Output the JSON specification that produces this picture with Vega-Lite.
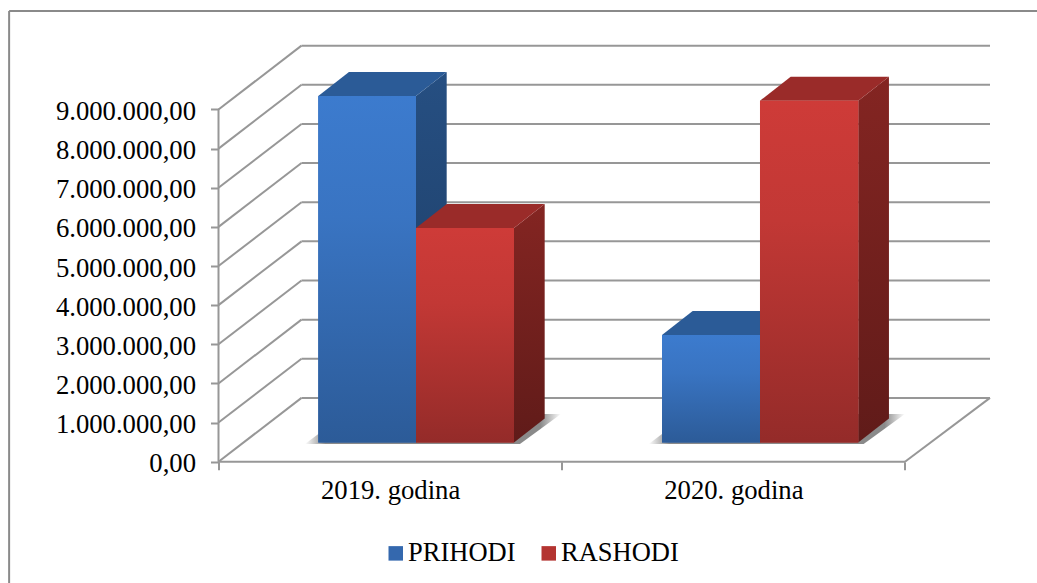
{
"$schema":"https://vega.github.io/schema/vega-lite/v6.json",
"width":771.5,"height":416.7,
"autosize":{"type":"none"},
"padding":{"left":218.5,"top":45,"right":47,"bottom":121.3},
"background":"white",
"config":{"view":{"stroke":null},"font":"Liberation Serif",
 "locale":{"number":{"decimal":",","thousands":".","grouping":[3],"currency":["",""]}}},
"datasets":{
 "lines":[
  {"part":"frame","x":-0.61,"y":11515000,"x2":2.4,"y2":11515000},
  {"part":"frame","x":-0.61,"y":11515000,"x2":-0.61,"y2":-3200000},
  {"part":"wall","x":0,"y":0,"x2":0,"y2":9000000},
  {"part":"wall","x":0,"y":0,"x2":2,"y2":0},
  {"part":"wall","x":2,"y":0,"x2":2.2477,"y2":1630000},
  {"part":"wall","x":0,"y":0,"x2":0.2418,"y2":1630000},
  {"part":"wall","x":0,"y":1000000,"x2":0.2418,"y2":2630000},
  {"part":"wall","x":0,"y":2000000,"x2":0.2418,"y2":3630000},
  {"part":"wall","x":0,"y":3000000,"x2":0.2418,"y2":4630000},
  {"part":"wall","x":0,"y":4000000,"x2":0.2418,"y2":5630000},
  {"part":"wall","x":0,"y":5000000,"x2":0.2418,"y2":6630000},
  {"part":"wall","x":0,"y":6000000,"x2":0.2418,"y2":7630000},
  {"part":"wall","x":0,"y":7000000,"x2":0.2418,"y2":8630000},
  {"part":"wall","x":0,"y":8000000,"x2":0.2418,"y2":9630000},
  {"part":"wall","x":0,"y":9000000,"x2":0.2418,"y2":10630000},
  {"part":"wall","x":0.2418,"y":1630000,"x2":2.2477,"y2":1630000},
  {"part":"wall","x":0.2418,"y":2630000,"x2":2.2477,"y2":2630000},
  {"part":"wall","x":0.2418,"y":3630000,"x2":2.2477,"y2":3630000},
  {"part":"wall","x":0.2418,"y":4630000,"x2":2.2477,"y2":4630000},
  {"part":"wall","x":0.2418,"y":5630000,"x2":2.2477,"y2":5630000},
  {"part":"wall","x":0.2418,"y":6630000,"x2":2.2477,"y2":6630000},
  {"part":"wall","x":0.2418,"y":7630000,"x2":2.2477,"y2":7630000},
  {"part":"wall","x":0.2418,"y":8630000,"x2":2.2477,"y2":8630000},
  {"part":"wall","x":0.2418,"y":9630000,"x2":2.2477,"y2":9630000},
  {"part":"wall","x":0.2418,"y":10630000,"x2":2.2477,"y2":10630000}
 ],
 "shadows":[
  {"bar":"2019","y":452000,"x":0.252,"x2":0.8783},
  {"bar":"2019","y":1218000,"x":0.3685,"x2":0.9978},
  {"bar":"2020","y":452000,"x":1.2533,"x2":1.8796},
  {"bar":"2020","y":1218000,"x":1.3698,"x2":2.0}
 ],
 "sides":[
  {"series":"PRIHODI","bar":"2019","x":0.5754,"top":9343000,"bottom":490500},
  {"series":"PRIHODI","bar":"2019","x":0.6648,"top":9956000,"bottom":1103500},
  {"series":"RASHODI","bar":"2019","x":0.8609,"top":5971000,"bottom":490500},
  {"series":"RASHODI","bar":"2019","x":0.9503,"top":6584000,"bottom":1103500},
  {"series":"PRIHODI","bar":"2020","x":1.5776,"top":3237000,"bottom":490500},
  {"series":"PRIHODI","bar":"2020","x":1.667,"top":3850000,"bottom":1103500},
  {"series":"RASHODI","bar":"2020","x":1.8639,"top":9223000,"bottom":490500},
  {"series":"RASHODI","bar":"2020","x":1.9533,"top":9836000,"bottom":1103500}
 ],
 "tops":[
  {"series":"PRIHODI","bar":"2019","y":9343000,"x":0.2907,"x2":0.5754},
  {"series":"PRIHODI","bar":"2019","y":9956000,"x":0.3801,"x2":0.6648},
  {"series":"RASHODI","bar":"2019","y":5971000,"x":0.5754,"x2":0.8609},
  {"series":"RASHODI","bar":"2019","y":6584000,"x":0.6648,"x2":0.9503},
  {"series":"PRIHODI","bar":"2020","y":3237000,"x":1.2921,"x2":1.5776},
  {"series":"PRIHODI","bar":"2020","y":3850000,"x":1.3815,"x2":1.667},
  {"series":"RASHODI","bar":"2020","y":9223000,"x":1.5776,"x2":1.8639},
  {"series":"RASHODI","bar":"2020","y":9836000,"x":1.667,"x2":1.9533}
 ],
 "fronts":[
  {"year":"2019. godina","series":"PRIHODI","value":8850000,"x":0.2907,"x2":0.5754,"top":9343000,"bottom":490500},
  {"year":"2019. godina","series":"RASHODI","value":5480000,"x":0.5754,"x2":0.8609,"top":5971000,"bottom":490500},
  {"year":"2020. godina","series":"PRIHODI","value":2750000,"x":1.2921,"x2":1.5776,"top":3237000,"bottom":490500},
  {"year":"2020. godina","series":"RASHODI","value":8730000,"x":1.5776,"x2":1.8639,"top":9223000,"bottom":490500}
 ]
},
"layer":[
 {"data":{"name":"lines"},
  "transform":[{"filter":"datum.part==='frame'"}],
  "mark":{"type":"rule","stroke":"#8a8a8a","strokeWidth":2,"clip":false},
  "encoding":{
   "x":{"field":"x","type":"quantitative","title":null,"scale":{"domain":[0,2.2477],"nice":false,"zero":false},
    "axis":{"values":[0,0.5,1,1.5,2],"domain":false,"grid":false,"tickSize":8,"tickWidth":2,"tickColor":"#979797",
     "tickOpacity":{"condition":{"test":"datum.value % 1 === 0","value":1},"value":0},
     "labelExpr":"datum.value===0.5?'2019. godina':datum.value===1.5?'2020. godina':''",
     "labelFont":"Liberation Serif","labelFontSize":26.7,"labelColor":"#000000","labelPadding":8,"labelFlush":false,"labelOverlap":false,"labelBaseline":"top"}},
   "y":{"field":"y","type":"quantitative","title":null,"scale":{"domain":[0,10647000],"nice":false,"zero":false},
    "axis":{"values":[0,1000000,2000000,3000000,4000000,5000000,6000000,7000000,8000000,9000000],"format":",.2f","domain":false,"grid":false,"tickSize":8,"tickWidth":2,"tickColor":"#979797",
     "labelFont":"Liberation Serif","labelFontSize":26.7,"labelColor":"#000000","labelPadding":15,"labelOverlap":false,"labelOffset":2}},
   "x2":{"field":"x2"},"y2":{"field":"y2"}
  }},
 {"data":{"name":"lines"},
  "transform":[{"filter":"datum.part==='wall'"}],
  "mark":{"type":"rule","stroke":"#979797","strokeWidth":2,"clip":false},
  "encoding":{
   "x":{"field":"x","type":"quantitative","title":null},
   "y":{"field":"y","type":"quantitative","title":null},
   "x2":{"field":"x2"},"y2":{"field":"y2"}
  }},
 {"data":{"name":"shadows"},
  "mark":{"type":"area","orient":"horizontal","fill":{"x1":0,"y1":0,"x2":1,"y2":0,"gradient":"linear","stops":[{"offset":0,"color":"#ffffff"},{"offset":0.08,"color":"#8a8a8a"},{"offset":0.92,"color":"#8a8a8a"},{"offset":1,"color":"#ffffff"}]}},
  "encoding":{
   "y":{"field":"y","type":"quantitative","title":null},
   "x":{"field":"x","type":"quantitative","title":null,"stack":null},
   "x2":{"field":"x2"},
   "detail":{"field":"bar"}
  }},
 {"data":{"name":"sides"},
  "transform":[{"filter":"datum.series==='PRIHODI'"}],
  "mark":{"type":"area","fill":{"x1":0,"y1":0,"x2":0,"y2":1,"gradient":"linear","stops":[{"offset":0,"color":"#264f82"},{"offset":1,"color":"#1c3b62"}]}},
  "encoding":{
   "x":{"field":"x","type":"quantitative","title":null},
   "y":{"field":"top","type":"quantitative","title":null,"stack":null},
   "y2":{"field":"bottom"},
   "detail":{"field":"bar"}
  }},
 {"data":{"name":"sides"},
  "transform":[{"filter":"datum.series==='RASHODI'"}],
  "mark":{"type":"area","fill":{"x1":0,"y1":0,"x2":0,"y2":1,"gradient":"linear","stops":[{"offset":0,"color":"#842522"},{"offset":1,"color":"#601b19"}]}},
  "encoding":{
   "x":{"field":"x","type":"quantitative","title":null},
   "y":{"field":"top","type":"quantitative","title":null,"stack":null},
   "y2":{"field":"bottom"},
   "detail":{"field":"bar"}
  }},
 {"data":{"name":"tops"},
  "transform":[{"filter":"datum.series==='PRIHODI'"}],
  "mark":{"type":"area","orient":"horizontal","fill":"#2b5b97"},
  "encoding":{
   "y":{"field":"y","type":"quantitative","title":null},
   "x":{"field":"x","type":"quantitative","title":null,"stack":null},
   "x2":{"field":"x2"},
   "detail":{"field":"bar"}
  }},
 {"data":{"name":"tops"},
  "transform":[{"filter":"datum.series==='RASHODI'"}],
  "mark":{"type":"area","orient":"horizontal","fill":"#9a2b29"},
  "encoding":{
   "y":{"field":"y","type":"quantitative","title":null},
   "x":{"field":"x","type":"quantitative","title":null,"stack":null},
   "x2":{"field":"x2"},
   "detail":{"field":"bar"}
  }},
 {"data":{"name":"fronts"},
  "mark":{"type":"rect"},
  "encoding":{
   "x":{"field":"x","type":"quantitative","title":null},
   "x2":{"field":"x2"},
   "y":{"field":"top","type":"quantitative","title":null},
   "y2":{"field":"bottom"},
   "fill":{"field":"series","type":"nominal","title":null,
    "scale":{"domain":["PRIHODI","RASHODI"],"range":["#3468ae","#b43431"]},
    "legend":{"orient":"none","legendX":164,"legendY":495,"direction":"horizontal","columns":2,"symbolType":"square","symbolSize":210,"symbolStrokeWidth":0,"symbolOpacity":1,"labelFont":"Liberation Serif","labelFontSize":26.5,"labelColor":"#000000","labelOffset":-1,"columnPadding":20,"labelLimit":200}}
  }},
 {"data":{"name":"fronts"},
  "transform":[{"filter":"datum.series==='PRIHODI'"}],
  "mark":{"type":"rect","fill":{"x1":0,"y1":0,"x2":0,"y2":1,"gradient":"linear","stops":[{"offset":0,"color":"#3c7bce"},{"offset":0.35,"color":"#3974c2"},{"offset":1,"color":"#2c5b98"}]}},
  "encoding":{
   "x":{"field":"x","type":"quantitative","title":null},
   "x2":{"field":"x2"},
   "y":{"field":"top","type":"quantitative","title":null},
   "y2":{"field":"bottom"}
  }},
 {"data":{"name":"fronts"},
  "transform":[{"filter":"datum.series==='RASHODI'"}],
  "mark":{"type":"rect","fill":{"x1":0,"y1":0,"x2":0,"y2":1,"gradient":"linear","stops":[{"offset":0,"color":"#ce3b38"},{"offset":0.35,"color":"#c23835"},{"offset":1,"color":"#942b29"}]}},
  "encoding":{
   "x":{"field":"x","type":"quantitative","title":null},
   "x2":{"field":"x2"},
   "y":{"field":"top","type":"quantitative","title":null},
   "y2":{"field":"bottom"}
  }}
]
}
